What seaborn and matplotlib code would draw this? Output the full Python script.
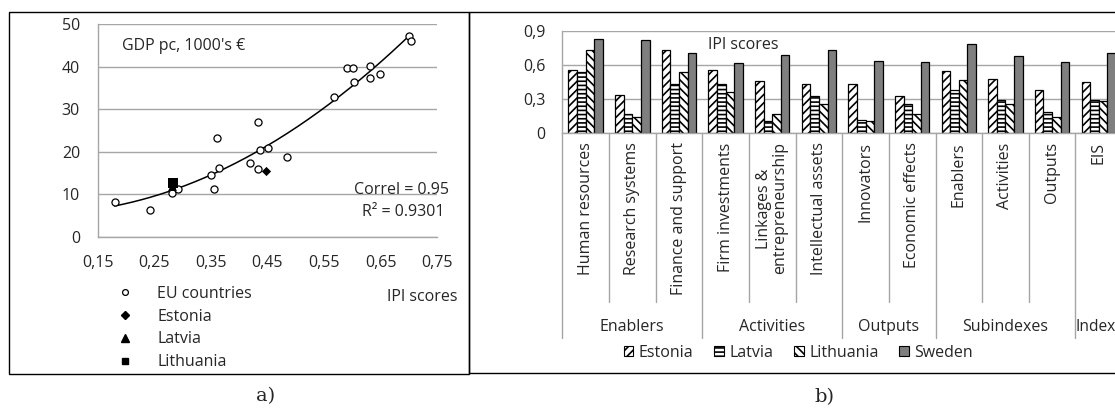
import numpy as np
import pandas as pd
import matplotlib
matplotlib.use("Agg")
import matplotlib.pyplot as plt
from matplotlib.patches import Rectangle, Patch
from matplotlib.lines import Line2D
from matplotlib.ticker import FixedLocator, FuncFormatter
import matplotlib.transforms as mtransforms
import seaborn as sns

# ---------------- data ----------------
# a) IPI score vs GDP per capita (1000's EUR)
eu_ipi = [0.180, 0.242, 0.281, 0.292, 0.350, 0.355, 0.361, 0.364, 0.419, 0.433, 0.433, 0.437,
          0.451, 0.484, 0.568, 0.590, 0.601, 0.602, 0.631, 0.631, 0.649, 0.700, 0.704]
eu_gdp = [8.1, 6.3, 10.4, 11.3, 14.5, 11.2, 23.2, 16.3, 17.4, 27.1, 16.0, 20.5,
          20.9, 18.8, 32.9, 39.6, 39.7, 36.5, 40.1, 37.4, 38.3, 47.1, 45.9]
estonia_pt = (0.448, 15.4)
latvia_pt = (0.281, 11.9)
lithuania_pt = (0.283, 12.6)
correl_text = "Correl = 0.95"
r2_text = "R² = 0.9301"

# b) IPI scores by dimension
categories = ["Human resources", "Research systems", "Finance and support",
              "Firm investments", "Linkages &\nentrepreneurship", "Intellectual assets",
              "Innovators", "Economic effects",
              "Enablers", "Activities", "Outputs",
              "EIS"]
groups = ["Enablers", "Activities", "Outputs", "Subindexes", "Index"]
group_sizes = [3, 3, 2, 3, 1]
countries = ["Estonia", "Latvia", "Lithuania", "Sweden"]
estonia = [0.56, 0.34, 0.73, 0.56, 0.46, 0.43, 0.43, 0.33, 0.55, 0.48, 0.38, 0.45]
latvia = [0.54, 0.17, 0.43, 0.43, 0.11, 0.33, 0.12, 0.26, 0.38, 0.29, 0.19, 0.29]
lithuania = [0.73, 0.14, 0.54, 0.36, 0.17, 0.26, 0.11, 0.17, 0.47, 0.26, 0.14, 0.28]
sweden = [0.83, 0.82, 0.71, 0.62, 0.69, 0.73, 0.64, 0.63, 0.79, 0.68, 0.63, 0.71]

# ---------------- style ----------------
sns.set_style("white")
plt.rcParams["font.family"] = ["Open Sans", "DejaVu Sans"]
plt.rcParams["font.size"] = 11.5
plt.rcParams["hatch.linewidth"] = 1.2

GRID = "#a6a6a6"
W, H = 1115, 409
fig = plt.figure(figsize=(W / 100, H / 100), dpi=100)


def fx(px):
    return px / W


def fy(py):
    return 1 - py / H


comma = FuncFormatter(lambda v, p: f"{v:g}".replace(".", ","))

# ---------------- panel frames ----------------
fig.add_artist(Rectangle((fx(9), fy(374)), fx(469) - fx(9), fy(12) - fy(374),
                         transform=fig.transFigure, fill=False, ec="black", lw=1.0))
fig.add_artist(Rectangle((fx(469), fy(372.7)), fx(1130) - fx(469), fy(12) - fy(372.7),
                         transform=fig.transFigure, fill=False, ec="black", lw=1.0))

# ---------------- a) scatter ----------------
ax1 = fig.add_axes([fx(97.7), fy(237), fx(437.3) - fx(97.7), fy(24) - fy(237)])
all_x = np.array(eu_ipi + [estonia_pt[0], latvia_pt[0], lithuania_pt[0]])
all_y = np.array(eu_gdp + [estonia_pt[1], latvia_pt[1], lithuania_pt[1]])
coef = np.polyfit(all_x, all_y, 2)
xs = np.linspace(min(eu_ipi), max(eu_ipi), 200)
sns.lineplot(x=xs, y=np.polyval(coef, xs), color="black", lw=1.1, ax=ax1, zorder=2)

sns.scatterplot(x=eu_ipi, y=eu_gdp, marker="o", s=26, color="white",
                edgecolor="black", linewidth=0.9, ax=ax1, zorder=3)
sns.scatterplot(x=[latvia_pt[0]], y=[latvia_pt[1]], marker="^", s=40, color="black",
                edgecolor="black", linewidth=0, ax=ax1, zorder=4)
sns.scatterplot(x=[lithuania_pt[0]], y=[lithuania_pt[1]], marker="s", s=42, color="black",
                edgecolor="black", linewidth=0, ax=ax1, zorder=5)
sns.scatterplot(x=[estonia_pt[0]], y=[estonia_pt[1]], marker="D", s=22, color="black",
                edgecolor="black", linewidth=0, ax=ax1, zorder=5)

ax1.set_xlim(0.15, 0.75)
ax1.set_ylim(0, 50)
ax1.xaxis.set_major_locator(FixedLocator([0.15, 0.25, 0.35, 0.45, 0.55, 0.65, 0.75]))
ax1.yaxis.set_major_locator(FixedLocator([0, 10, 20, 30, 40, 50]))
ax1.xaxis.set_major_formatter(comma)
ax1.yaxis.set_major_formatter(comma)
ax1.grid(axis="y", color=GRID, lw=1.0)
ax1.grid(axis="x", visible=False)
ax1.set_axisbelow(True)
for s in ["top", "right"]:
    ax1.spines[s].set_visible(False)
for s in ["left", "bottom"]:
    ax1.spines[s].set_color(GRID)
    ax1.spines[s].set_linewidth(1.0)
ax1.tick_params(axis="y", direction="out", length=4.2, width=1.0, color=GRID, pad=8.5)
ax1.tick_params(axis="x", direction="out", length=3.8, width=1.0, color=GRID, pad=9.5)
ax1.set_xlabel("")
ax1.set_ylabel("")

fig.text(fx(122), fy(46), "GDP pc, 1000's €", ha="left", va="center")
fig.text(fx(449), fy(190), correl_text, ha="right", va="center")
fig.text(fx(444), fy(212), r2_text, ha="right", va="center")
fig.text(fx(387), fy(297), "IPI scores", ha="left", va="center")

leg_handles = [
    Line2D([], [], ls="none", marker="o", ms=4.2, mfc="white", mec="black", mew=0.9),
    Line2D([], [], ls="none", marker="D", ms=4.2, mfc="black", mec="black"),
    Line2D([], [], ls="none", marker="^", ms=5.2, mfc="black", mec="black"),
    Line2D([], [], ls="none", marker="s", ms=4.6, mfc="black", mec="black"),
]
fig.legend(leg_handles, ["EU countries", "Estonia", "Latvia", "Lithuania"],
           loc="upper left", bbox_to_anchor=(fx(117.4), fy(286)), frameon=False,
           handlelength=0.95, handletextpad=1.55, labelspacing=0.42, borderpad=0,
           borderaxespad=0)

# ---------------- b) bar chart ----------------
ax2 = fig.add_axes([fx(562.3), fy(133.3), fx(1122.1) - fx(562.3), fy(31) - fy(133.3)])
df = pd.DataFrame({
    "category": np.tile(categories, 4),
    "country": np.repeat(countries, len(categories)),
    "score": estonia + latvia + lithuania + sweden,
})
palette = {"Estonia": "white", "Latvia": "white", "Lithuania": "white", "Sweden": "#7f7f7f"}
sns.barplot(data=df, x="category", y="score", hue="country", hue_order=countries,
            order=categories, palette=palette, width=0.74, edgecolor="black",
            linewidth=0.9, errorbar=None, legend=False, saturation=1, ax=ax2)
hatches = {"Estonia": "////", "Latvia": "----", "Lithuania": "\\\\\\\\", "Sweden": ""}
for cont, c in zip(ax2.containers, countries):
    for bar in cont:
        bar.set_hatch(hatches[c])
        bar.set_edgecolor("black")

ax2.set_xlim(-0.5, len(categories) - 0.5)
ax2.set_ylim(0, 0.9)
ax2.yaxis.set_major_locator(FixedLocator([0, 0.3, 0.6, 0.9]))
ax2.yaxis.set_major_formatter(comma)
ax2.grid(axis="y", color=GRID, lw=1.0)
ax2.grid(axis="x", visible=False)
ax2.set_axisbelow(True)
for s in ["top", "right"]:
    ax2.spines[s].set_visible(False)
for s in ["left", "bottom"]:
    ax2.spines[s].set_color(GRID)
    ax2.spines[s].set_linewidth(1.0)
ax2.tick_params(axis="y", direction="out", length=4.3, width=1.0, color=GRID, pad=8)
ax2.tick_params(axis="x", length=0, pad=6.5)
ax2.set_xticks(range(len(categories)))
ax2.set_xticklabels(categories, rotation=90, va="top", ha="center", linespacing=1.0)
ax2.set_xlabel("")
ax2.set_ylabel("")

# category and group separators under the axis
cat_depth = -(302 - 133.3) / 102.3
grp_depth = -(338 - 133.3) / 102.3
blend = mtransforms.blended_transform_factory(ax2.transData, ax2.transAxes)
bounds = np.cumsum([0] + group_sizes) - 0.5
for b in np.arange(-0.5, len(categories), 1.0):
    depth = grp_depth if np.any(np.isclose(bounds, b)) else cat_depth
    ax2.plot([b, b], [0, depth], transform=blend, color=GRID, lw=1.0, clip_on=False)
for g, lo, hi in zip(groups, bounds[:-1], bounds[1:]):
    if g == "Index":
        # last group sits against the right border, keep its label inside
        ax2.text(lo + 0.01, -(327 - 133.3) / 102.3, g, transform=blend,
                 ha="left", va="center", fontsize=11.2)
    else:
        ax2.text((lo + hi) / 2, -(327 - 133.3) / 102.3, g, transform=blend,
                 ha="center", va="center")

fig.text(fx(708), fy(45), "IPI scores", ha="left", va="center")

bar_handles = [Patch(facecolor=palette[c], edgecolor="black", hatch=hatches[c], lw=0.8)
               for c in countries]
fig.legend(bar_handles, countries, loc="center", bbox_to_anchor=(fx(798.5), fy(352.7)),
           ncol=4, frameon=False, handlelength=0.6, handleheight=0.6,
           handletextpad=0.35, columnspacing=1.3, borderpad=0, borderaxespad=0)

# ---------------- panel captions ----------------
fig.text(fx(266), fy(396), "a)", ha="center", va="center", family="DejaVu Serif", fontsize=14)
fig.text(fx(824), fy(397), "b)", ha="center", va="center", family="DejaVu Serif", fontsize=14)

fig.savefig("out.png", dpi=100)
